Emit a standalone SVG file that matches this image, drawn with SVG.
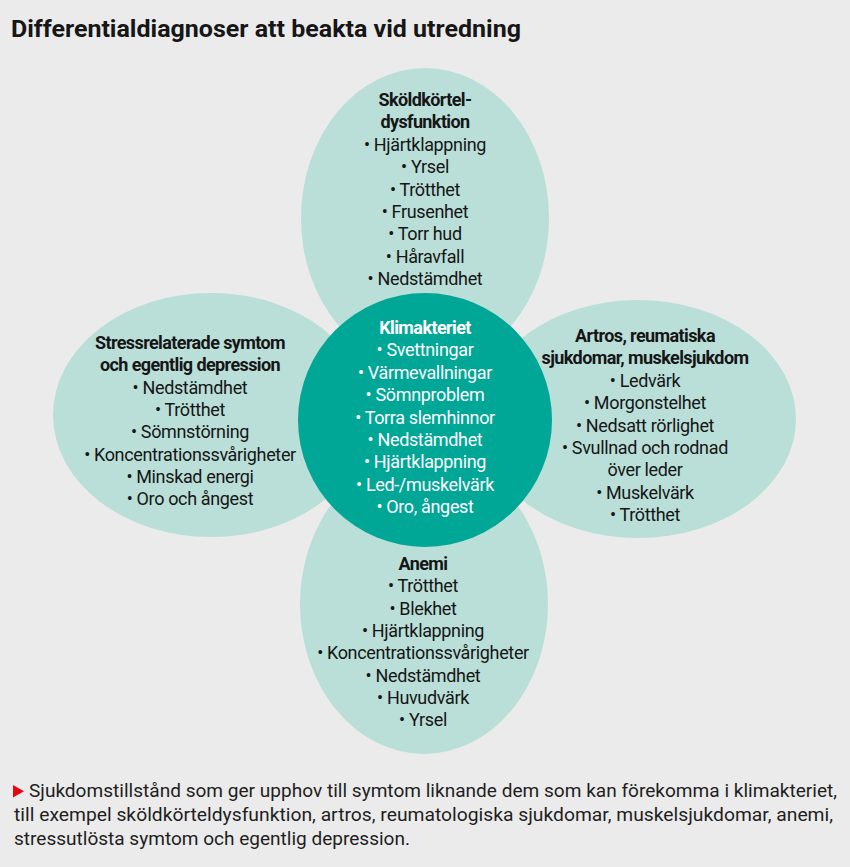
<svg xmlns="http://www.w3.org/2000/svg" width="850" height="867" viewBox="0 0 850 867">
<style>
  .bg { fill: #ebebeb; }
  .petal { fill: #b9dfd8; }
  .core { fill: #00a696; }
  text { font-family: Roboto, "Liberation Sans", sans-serif; font-size: 18px; letter-spacing: -0.35px; text-anchor: middle; fill: #161616; }
  .h { font-weight: 700; letter-spacing: -0.6px; }
  .w { fill: #ffffff; }
  .title { font-size: 23px; font-weight: 700; text-anchor: start; letter-spacing: 0; }
  .foot { font-size: 19px; text-anchor: start; letter-spacing: 0; fill: #1e1e1e; }
</style>
<rect class="bg" x="0" y="0" width="850" height="867"/>
<text class="title" x="11" y="37" textLength="510" lengthAdjust="spacingAndGlyphs">Differentialdiagnoser att beakta vid utredning</text>

<g id="connectors"></g>

<g id="node-skoldkortel">
  <ellipse class="petal" cx="425" cy="218" rx="124" ry="150"/>
</g>
<g id="node-anemi">
  <ellipse class="petal" cx="424" cy="604" rx="124" ry="150"/>
</g>
<g id="node-stress">
  <ellipse class="petal" cx="211" cy="415" rx="158" ry="122"/>
</g>
<g id="node-artros">
  <ellipse class="petal" cx="638" cy="419" rx="158" ry="119"/>
</g>
<g id="node-klimakteriet">
  <circle class="core" cx="425" cy="420" r="127"/>
</g>

<g id="text-skoldkortel">
  <text class="h" x="425" y="106">Sköldkörtel-</text>
  <text class="h" x="425" y="128.4">dysfunktion</text>
  <text x="425" y="150.8">• Hjärtklappning</text>
  <text x="425" y="173.2">• Yrsel</text>
  <text x="425" y="195.6">• Trötthet</text>
  <text x="425" y="218">• Frusenhet</text>
  <text x="425" y="240.4">• Torr hud</text>
  <text x="425" y="262.8">• Håravfall</text>
  <text x="425" y="285.2">• Nedstämdhet</text>
</g>

<g id="text-klimakteriet">
  <text class="h w" x="425" y="334">Klimakteriet</text>
  <text class="w" x="425" y="356.4">• Svettningar</text>
  <text class="w" x="425" y="378.8">• Värmevallningar</text>
  <text class="w" x="425" y="401.2">• Sömnproblem</text>
  <text class="w" x="425" y="423.6">• Torra slemhinnor</text>
  <text class="w" x="425" y="446">• Nedstämdhet</text>
  <text class="w" x="425" y="468.4">• Hjärtklappning</text>
  <text class="w" x="425" y="490.8">• Led-/muskelvärk</text>
  <text class="w" x="425" y="513.2">• Oro, ångest</text>
</g>

<g id="text-stress">
  <text class="h" x="190" y="349">Stressrelaterade symtom</text>
  <text class="h" x="190" y="371.3">och egentlig depression</text>
  <text x="190" y="393.6">• Nedstämdhet</text>
  <text x="190" y="415.9">• Trötthet</text>
  <text x="190" y="438.2">• Sömnstörning</text>
  <text x="190" y="460.5">• Koncentrationssvårigheter</text>
  <text x="190" y="482.8">• Minskad energi</text>
  <text x="190" y="505.1">• Oro och ångest</text>
</g>

<g id="text-artros">
  <text class="h" x="645" y="342">Artros, reumatiska</text>
  <text class="h" x="645" y="364.4">sjukdomar, muskelsjukdom</text>
  <text x="645" y="386.8">• Ledvärk</text>
  <text x="645" y="409.2">• Morgonstelhet</text>
  <text x="645" y="431.6">• Nedsatt rörlighet</text>
  <text x="645" y="454">• Svullnad och rodnad</text>
  <text x="645" y="476.4">över leder</text>
  <text x="645" y="498.8">• Muskelvärk</text>
  <text x="645" y="521.2">• Trötthet</text>
</g>

<g id="text-anemi">
  <text class="h" x="423" y="570">Anemi</text>
  <text x="423" y="592.3">• Trötthet</text>
  <text x="423" y="614.6">• Blekhet</text>
  <text x="423" y="636.9">• Hjärtklappning</text>
  <text x="423" y="659.2">• Koncentrationssvårigheter</text>
  <text x="423" y="681.5">• Nedstämdhet</text>
  <text x="423" y="703.8">• Huvudvärk</text>
  <text x="423" y="726.1">• Yrsel</text>
</g>

<g id="footer">
  <polygon points="13,785 24,791.3 13,797.6" fill="#e30613"/>
  <text class="foot" x="29" y="797" textLength="808" lengthAdjust="spacingAndGlyphs">Sjukdomstillstånd som ger upphov till symtom liknande dem som kan förekomma i klimakteriet,</text>
  <text class="foot" x="14" y="821" textLength="819" lengthAdjust="spacingAndGlyphs">till exempel sköldkörteldysfunktion, artros, reumatologiska sjukdomar, muskelsjukdomar, anemi,</text>
  <text class="foot" x="14" y="845" textLength="396" lengthAdjust="spacingAndGlyphs">stressutlösta symtom och egentlig depression.</text>
</g>
</svg>
